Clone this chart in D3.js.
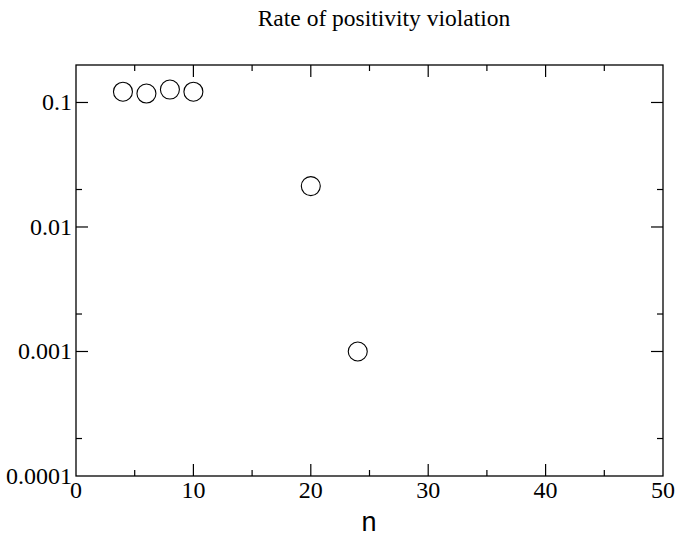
<!DOCTYPE html>
<html><head><meta charset="utf-8">
<script src="https://cdn.jsdelivr.net/npm/d3@7"></script>
<style>body{margin:0;background:#fff}svg{display:block}</style>
</head><body>
<svg id="c" width="678" height="538"></svg>
<script>
const nValues = [4, 6, 8, 10, 20, 24];
const rateValues = [0.122, 0.118, 0.127, 0.122, 0.0213, 0.001];
const xMajorTicks = [0, 10, 20, 30, 40, 50];
const xMinorTicks = [5, 15, 25, 35, 45];
const yMajorTicks = [0.0001, 0.001, 0.01, 0.1];
const yMajorLabels = ["0.0001", "0.001", "0.01", "0.1"];
const yMinorTicks = [0.0002, 0.002, 0.02];
const title = "Rate of positivity violation";
const xLabel = "n";

const svg = d3.select("#c");
const L = 76, R = 663, T = 65, B = 476;
const x = d3.scaleLinear().domain([0, 50]).range([L, R]);
const y = d3.scaleLog().domain([0.0001, 0.2]).range([B, T]);
const serif = "'Liberation Serif','Times New Roman',serif";

// Frame
svg.append("rect").attr("x", L).attr("y", T).attr("width", R - L).attr("height", B - T)
  .attr("fill", "none").attr("stroke", "#000").attr("stroke-width", 1.3);

const g = svg.append("g").attr("stroke", "#000").attr("stroke-width", 1.2);
xMajorTicks.slice(1, -1).forEach(v => {
  g.append("line").attr("x1", x(v)).attr("x2", x(v)).attr("y1", B).attr("y2", B - 12);
  g.append("line").attr("x1", x(v)).attr("x2", x(v)).attr("y1", T).attr("y2", T + 12);
});
xMinorTicks.forEach(v => {
  g.append("line").attr("x1", x(v)).attr("x2", x(v)).attr("y1", B).attr("y2", B - 6);
  g.append("line").attr("x1", x(v)).attr("x2", x(v)).attr("y1", T).attr("y2", T + 6);
});
yMajorTicks.slice(1).forEach(v => {
  g.append("line").attr("x1", L).attr("x2", L + 12).attr("y1", y(v)).attr("y2", y(v));
  g.append("line").attr("x1", R).attr("x2", R - 12).attr("y1", y(v)).attr("y2", y(v));
});
yMinorTicks.forEach(v => {
  g.append("line").attr("x1", L).attr("x2", L + 6).attr("y1", y(v)).attr("y2", y(v));
  g.append("line").attr("x1", R).attr("x2", R - 6).attr("y1", y(v)).attr("y2", y(v));
});

svg.append("g").selectAll("text").data(xMajorTicks).join("text")
  .attr("x", d => x(d)).attr("y", 498).attr("text-anchor", "middle")
  .attr("font-family", serif).attr("font-size", 24).text(d => d);
svg.append("g").selectAll("text").data(yMajorTicks).join("text")
  .attr("x", 72).attr("y", d => y(d) + 8).attr("text-anchor", "end")
  .attr("font-family", serif).attr("font-size", 24).text((d, i) => yMajorLabels[i]);

svg.append("text").attr("x", 384).attr("y", 26).attr("text-anchor", "middle")
  .attr("font-family", serif).attr("font-size", 23.5).text(title);
svg.append("text").attr("x", 369).attr("y", 531).attr("text-anchor", "middle")
  .attr("font-family", "'Liberation Sans',Arial,sans-serif").attr("font-size", 27).text(xLabel);

svg.append("g").selectAll("circle").data(nValues).join("circle")
  .attr("cx", d => x(d)).attr("cy", (d, i) => y(rateValues[i])).attr("r", 9.5)
  .attr("fill", "none").attr("stroke", "#000").attr("stroke-width", 1.1);
</script>
</body></html>
